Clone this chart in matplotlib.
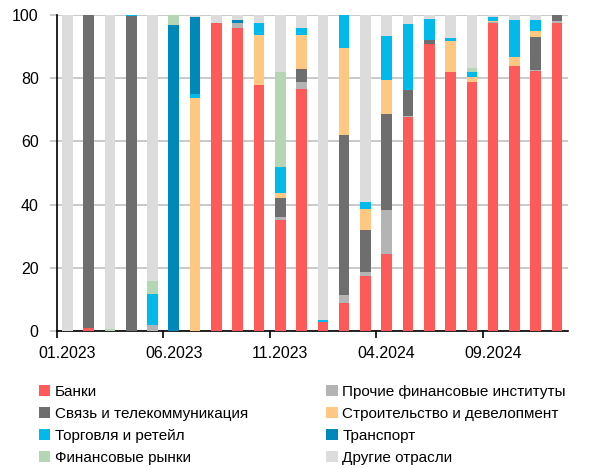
import numpy as np
import matplotlib
matplotlib.use("Agg")
import matplotlib.pyplot as plt

plt.rcParams["font.family"] = ["Liberation Sans", "DejaVu Sans"]

# Months (one bar per month)
months = ["01.2023", "02.2023", "03.2023", "04.2023", "05.2023", "06.2023",
          "07.2023", "08.2023", "09.2023", "10.2023", "11.2023", "12.2023",
          "01.2024", "02.2024", "03.2024", "04.2024", "05.2024", "06.2024",
          "07.2024", "08.2024", "09.2024", "10.2024", "11.2024", "12.2024"]
tick_labels = ["01.2023", "06.2023", "11.2023", "04.2024", "09.2024"]

# Shares by sector, % (bottom to top)
banks = [0, 1, 0, 0, 0, 0, 0, 97.5, 95.9, 77.8, 35.1, 76.6,
         2.8, 8.8, 17.5, 24.4, 67.7, 90.7, 82.1, 78.9, 97.4, 83.9, 82.4, 97.6]
other_fin = [0, 0, 0, 0, 1.9, 0, 0, 0, 1.6, 0, 1.0, 2.2,
             0, 2.6, 1.1, 13.8, 0.3, 0, 0, 0, 0.3, 0, 0.2, 0.4]
telecom = [0, 99, 0, 99.7, 0, 0, 0, 0, 0, 0, 5.9, 4.1,
           0, 50.7, 13.2, 30.5, 8.1, 1.4, 0, 0, 0, 0, 10.4, 2.0]
construction = [0, 0, 0, 0, 0, 0, 73.6, 0, 0, 16, 1.5, 10.7,
                0, 27.6, 6.7, 10.7, 0, 0, 9.7, 1.4, 0.5, 2.7, 2.0, 0]
retail = [0, 0, 0, 0.3, 9.7, 0, 1.3, 0, 0, 3.8, 8.3, 2.3,
          0.5, 10.3, 2.4, 13.8, 20.9, 6.5, 0.8, 1.5, 1.1, 11.9, 3.4, 0]
transport = [0, 0, 0, 0, 0, 96.8, 24.6, 0, 0.9, 0, 0, 0,
             0, 0, 0, 0, 0.3, 0, 0, 0, 0, 0, 0, 0]
fin_markets = [0, 0, 0.5, 0, 4.3, 3.2, 0, 0, 0, 0, 30, 0,
               0, 0, 0, 0, 0, 0, 0, 1.4, 0, 0, 0, 0]
other = [100, 0, 99.5, 0, 84.1, 0, 0.5, 2.5, 1.6, 2.4, 18.2, 4.1,
         96.7, 0, 59.1, 6.8, 2.7, 1.4, 7.4, 16.8, 0.7, 1.5, 1.6, 0]

series = [
    ("Банки", banks, "#FF5A5A"),
    ("Прочие финансовые институты", other_fin, "#B4B4B4"),
    ("Связь и телекоммуникация", telecom, "#6E6E6E"),
    ("Строительство и девелопмент", construction, "#FFC882"),
    ("Торговля и ретейл", retail, "#00BAEC"),
    ("Транспорт", transport, "#0088BB"),
    ("Финансовые рынки", fin_markets, "#B5D6B5"),
    ("Другие отрасли", other, "#DCDCDC"),
]

fig = plt.figure(figsize=(5.99, 4.68), dpi=100)
ax = fig.add_axes([0.0947, 0.293, 0.853, 0.675])

x = np.arange(len(months))
bottom = np.zeros(len(months))
handles = {}
for name, vals, color in series:
    b = ax.bar(x, vals, 0.5, bottom=bottom, color=color, label=name, zorder=3)
    handles[name] = b
    bottom += np.array(vals)

ax.set_xlim(-0.5, len(months) - 0.5)
ax.set_ylim(0, 100)
ax.set_yticks([0, 20, 40, 60, 80, 100])
ax.grid(axis="y", color="#C0C0C0", linewidth=1.2, zorder=0)

# labels sit under the bar, tick marks at the left edge of the slot
label_pos = [months.index(m) for m in tick_labels]
ax.set_xticks(label_pos)
ax.set_xticklabels(tick_labels)
ax.set_xticks([p - 0.5 for p in label_pos], minor=True)

for s in ["top", "right"]:
    ax.spines[s].set_visible(False)
ax.spines["left"].set_linewidth(1.2)
ax.spines["bottom"].set_linewidth(1.2)
ax.tick_params(axis="x", which="major", length=0, pad=11, labelsize=11.5)
ax.tick_params(axis="x", which="minor", length=5, width=1.2)
ax.tick_params(axis="y", length=5, width=1.2, color="#C0C0C0", pad=8, labelsize=11.5)

# legend laid out row by row like the original
names = [s[0] for s in series]
order = names[0::2] + names[1::2]
fig.legend([handles[n] for n in order], order, loc="upper left",
           bbox_to_anchor=(0.065, 0.178), ncol=2, frameon=False,
           fontsize=11, handlelength=0.75, handleheight=0.75,
           handletextpad=0.3, columnspacing=5.1, labelspacing=0.52,
           borderaxespad=0, borderpad=0)

plt.savefig("out.png", dpi=100)
plt.close()
